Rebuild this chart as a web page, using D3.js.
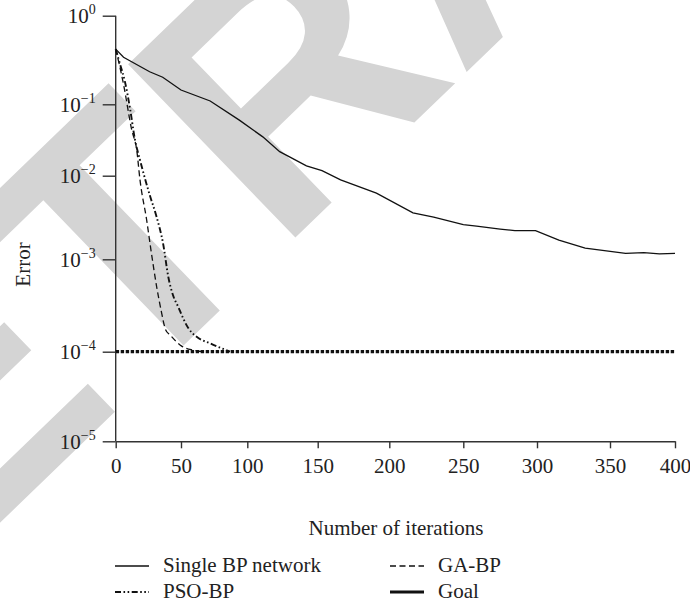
<!DOCTYPE html>
<html>
<head>
<meta charset="utf-8">
<script src="https://cdn.jsdelivr.net/npm/d3@7"></script>
<style>
  html, body { margin: 0; padding: 0; background: #fff; }
  svg { display: block; }
</style>
</head>
<body>
<svg id="chart"></svg>
<script>
// iterations and error readings for each series
const bpIter = [0, 6, 26, 36, 50, 72, 94, 111, 123, 142, 153, 166, 191, 216, 230, 250, 259, 275, 285, 299, 315, 333, 362, 376, 388, 400];
const bpErr = [0.42, 0.34, 0.233, 0.202, 0.145, 0.109, 0.060, 0.035, 0.0217, 0.0137, 0.0118, 0.0089, 0.0062, 0.0036, 0.0032, 0.0026, 0.0025, 0.0023, 0.0022, 0.0022, 0.0017, 0.00136, 0.00118, 0.0012, 0.00116, 0.00118];

const gaIter = [0, 2, 5.8, 12.3, 16.1, 18.6, 23.7, 27, 31.4, 34.7, 38.3, 41.6, 50.5, 59, 67];
const gaErr = [0.42, 0.316, 0.174, 0.0436, 0.0229, 0.0089, 0.00295, 0.00129, 0.000501, 0.000283, 0.000172, 0.000152, 0.000115, 0.000104, 0.0001];

const psoIter = [0, 3.3, 7.1, 10.9, 14.8, 18.6, 26.3, 30.9, 36.5, 40.3, 44.1, 47.9, 51.5, 55.5, 61.8, 71.9, 81.9, 87];
const psoErr = [0.42, 0.285, 0.179, 0.0888, 0.0316, 0.0166, 0.00571, 0.00339, 0.00148, 0.000643, 0.000401, 0.000305, 0.000232, 0.00018, 0.000145, 0.000123, 0.000107, 0.0001];

const goalIter = [0, 400];
const goalErr = [0.0001, 0.0001];

const xTicks = [0, 50, 100, 150, 200, 250, 300, 350, 400];
const yTicks = [1, 0.1, 0.01, 0.001, 0.0001, 0.00001];
const yExp = ["0", "\u22121", "\u22122", "\u22123", "\u22124", "\u22125"];

const legendNames = ["Single BP network", "GA-BP", "PSO-BP", "Goal"];

// layout: the source picture's tick spacing is slightly uneven, so the scales are piecewise
const width = 690, height = 603;
const xTickPx = [115.7, 181, 247.3, 317.7, 389.3, 463.3, 537, 610, 675];
const yTickPx = [15.7, 104.3, 175.7, 259.3, 351.7, 441.3];
const serif = "'Liberation Serif', 'Times New Roman', serif";
const fontSize = "21px";

const svg = d3.select("#chart").attr("width", width).attr("height", height);

const x = d3.scaleLinear().domain(xTicks).range(xTickPx);
const y = d3.scaleLog().domain(yTicks).range(yTickPx);

// watermark
svg.append("text")
    .attr("transform", "translate(-225,740) rotate(-44)")
    .style("font-family", "'Liberation Sans', Arial, sans-serif")
    .style("font-weight", "bold")
    .style("font-size", "350px")
    .style("fill", "#d4d4d4")
    .text("RETRACTED");

const axisColor = "#333";

// y axis
const yAxis = svg.append("g")
    .attr("transform", `translate(${x(0)},0)`)
    .call(d3.axisLeft(y).tickValues(yTicks).tickSize(13).tickFormat(""));
yAxis.select(".domain").attr("d", `M0,${y(1)}V${y(1e-5)}`);
yAxis.selectAll("path, line").attr("stroke", axisColor).attr("stroke-width", 1.4);

yAxis.selectAll(".tick").each(function(d, i) {
    const t = d3.select(this).append("text")
        .attr("x", -20)
        .attr("y", 7)
        .attr("text-anchor", "end")
        .attr("fill", "#222")
        .style("font-family", serif)
        .style("font-size", fontSize);
    t.append("tspan").text("10");
    t.append("tspan").attr("dy", -9).style("font-size", "14px").text(yExp[i]);
});

// x axis
const xAxis = svg.append("g")
    .attr("transform", `translate(0,${y(1e-5)})`)
    .call(d3.axisBottom(x).tickValues(xTicks).tickSize(7).tickSizeOuter(0).tickPadding(10));
xAxis.selectAll("path, line").attr("stroke", axisColor).attr("stroke-width", 1.4);
xAxis.selectAll("text")
    .attr("fill", "#222")
    .style("font-family", serif)
    .style("font-size", fontSize);

// axis titles
svg.append("text")
    .attr("transform", `translate(30,${(y(1) + y(1e-5)) / 2 + 36}) rotate(-90)`)
    .attr("text-anchor", "middle")
    .attr("fill", "#222")
    .style("font-family", serif)
    .style("font-size", fontSize)
    .text("Error");

svg.append("text")
    .attr("x", 396)
    .attr("y", 535)
    .attr("text-anchor", "middle")
    .attr("fill", "#222")
    .style("font-family", serif)
    .style("font-size", fontSize)
    .text("Number of iterations");

// series
const styles = [
    { width: 1.3, dash: null },
    { width: 1.3, dash: "6,3.5" },
    { width: 1.9, dash: "6,2.5,1.6,2.5,1.6,2.5" },
    { width: 3.2, dash: "3.4,1.6" }
];

const seriesData = [
    d3.zip(bpIter, bpErr),
    d3.zip(gaIter, gaErr),
    d3.zip(psoIter, psoErr),
    d3.zip(goalIter, goalErr)
];

const lineStraight = d3.line().x(d => x(d[0])).y(d => y(d[1]));
const lineSmooth = d3.line().x(d => x(d[0])).y(d => y(d[1])).curve(d3.curveMonotoneX);

[3, 1, 2, 0].forEach(i => {
    svg.append("path")
        .datum(seriesData[i])
        .attr("d", (i === 1 || i === 2) ? lineSmooth : lineStraight)
        .attr("fill", "none")
        .attr("stroke", "#111")
        .attr("stroke-width", styles[i].width)
        .attr("stroke-dasharray", styles[i].dash);
});

// legend
const legendPos = [[115, 566], [390, 566], [115, 592], [390, 592]];
legendNames.forEach((name, i) => {
    const g = svg.append("g").attr("transform", `translate(${legendPos[i][0]},${legendPos[i][1]})`);
    g.append("line")
        .attr("x1", 0).attr("x2", 34)
        .attr("y1", 0).attr("y2", 0)
        .attr("stroke", "#111")
        .attr("stroke-width", i === 3 ? 3 : styles[i].width)
        .attr("stroke-dasharray", i === 3 ? null : styles[i].dash);
    g.append("text")
        .attr("x", 48)
        .attr("y", 6)
        .attr("fill", "#222")
        .style("font-family", serif)
        .style("font-size", fontSize)
        .text(name);
});
</script>
</body>
</html>
